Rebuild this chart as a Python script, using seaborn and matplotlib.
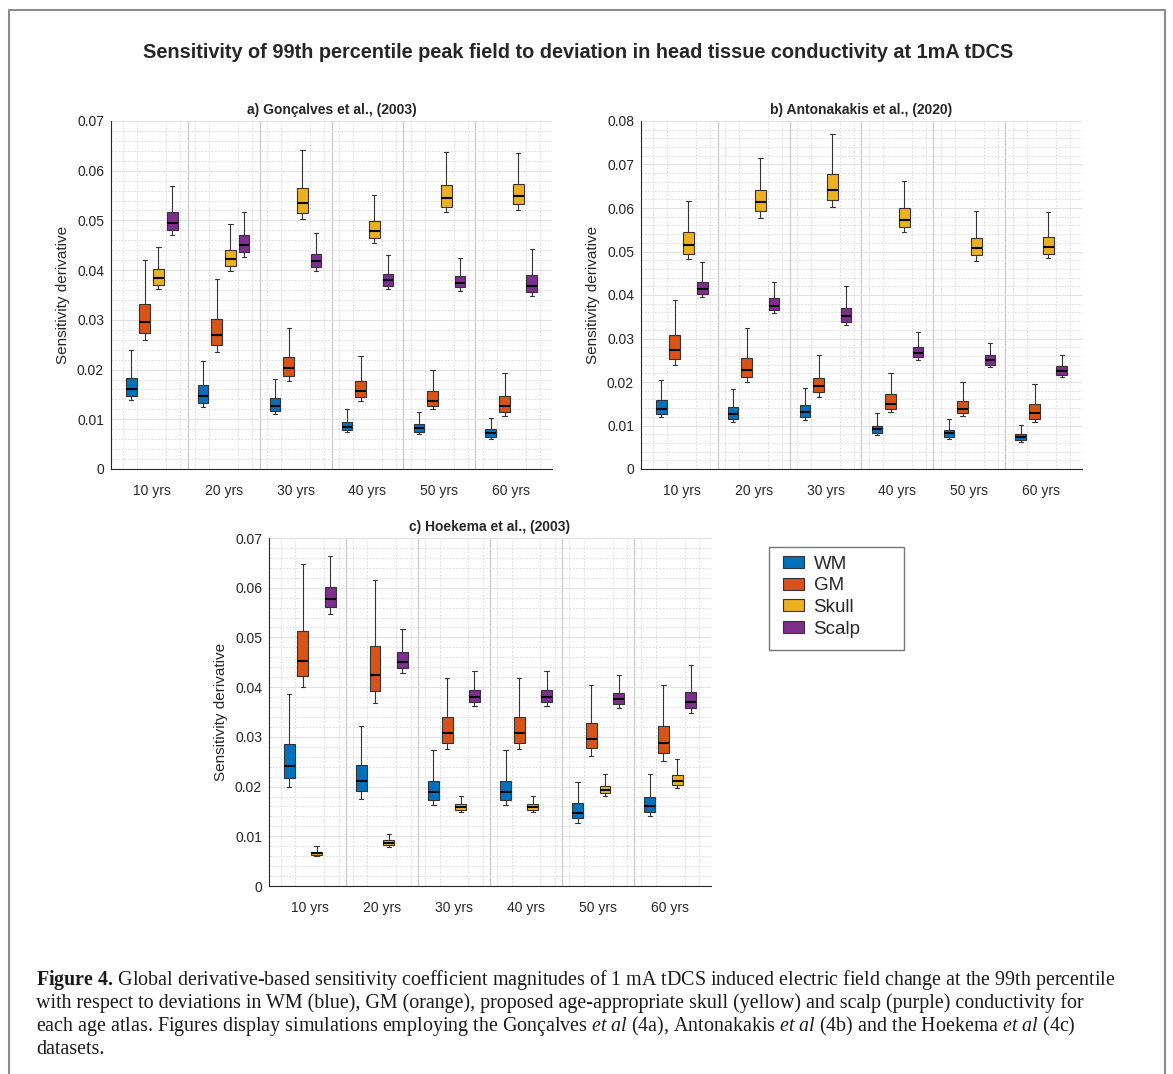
import matplotlib
matplotlib.use("Agg")
import matplotlib.pyplot as plt
import numpy as np
import pandas as pd
import seaborn as sns
from matplotlib.patches import Patch, Rectangle
from matplotlib.lines import Line2D

AGES = ['10 yrs', '20 yrs', '30 yrs', '40 yrs', '50 yrs', '60 yrs']
TISSUES = ['WM', 'GM', 'Skull', 'Scalp']
COLORS = ['#0072BD', '#D95319', '#EDB120', '#7E2F8E']

# box summaries, one tuple per age: (min, q1, median, q3, max)
# a) Goncalves et al. (2003)
gonc_wm = [(0.0138, 0.0146, 0.0161, 0.0184, 0.0240), (0.0125, 0.0133, 0.0146, 0.0168, 0.0218),
           (0.0110, 0.0117, 0.0126, 0.0142, 0.0182), (0.0074, 0.0078, 0.0084, 0.0095, 0.0121),
           (0.0070, 0.0075, 0.0082, 0.0090, 0.0115), (0.0060, 0.0065, 0.0072, 0.0080, 0.0102)]
gonc_gm = [(0.0259, 0.0273, 0.0296, 0.0332, 0.0421), (0.0235, 0.0249, 0.0269, 0.0302, 0.0383),
           (0.0178, 0.0188, 0.0203, 0.0226, 0.0283), (0.0137, 0.0144, 0.0157, 0.0178, 0.0228),
           (0.0121, 0.0127, 0.0137, 0.0156, 0.0200), (0.0107, 0.0115, 0.0126, 0.0146, 0.0194)]
gonc_skull = [(0.0362, 0.0371, 0.0385, 0.0402, 0.0447), (0.0399, 0.0409, 0.0423, 0.0441, 0.0492),
              (0.0502, 0.0515, 0.0535, 0.0565, 0.0641), (0.0454, 0.0464, 0.0478, 0.0499, 0.0552),
              (0.0516, 0.0528, 0.0546, 0.0572, 0.0638), (0.0521, 0.0533, 0.0549, 0.0573, 0.0636)]
gonc_scalp = [(0.0470, 0.0481, 0.0495, 0.0516, 0.0569), (0.0427, 0.0437, 0.0450, 0.0470, 0.0517),
              (0.0399, 0.0407, 0.0418, 0.0433, 0.0474), (0.0362, 0.0369, 0.0380, 0.0393, 0.0431),
              (0.0358, 0.0366, 0.0374, 0.0389, 0.0424), (0.0348, 0.0357, 0.0369, 0.0391, 0.0443)]

# b) Antonakakis et al. (2020)
anto_wm = [(0.0119, 0.0127, 0.0139, 0.0159, 0.0204), (0.0109, 0.0116, 0.0127, 0.0143, 0.0185),
           (0.0113, 0.0119, 0.0130, 0.0146, 0.0187), (0.0078, 0.0083, 0.0093, 0.0100, 0.0128),
           (0.0070, 0.0074, 0.0083, 0.0090, 0.0115), (0.0061, 0.0066, 0.0073, 0.0080, 0.0101)]
anto_gm = [(0.0239, 0.0253, 0.0273, 0.0308, 0.0388), (0.0199, 0.0211, 0.0227, 0.0256, 0.0324),
           (0.0165, 0.0176, 0.0190, 0.0210, 0.0263), (0.0132, 0.0139, 0.0150, 0.0172, 0.0221),
           (0.0121, 0.0128, 0.0138, 0.0156, 0.0201), (0.0109, 0.0116, 0.0129, 0.0149, 0.0196)]
anto_skull = [(0.0482, 0.0494, 0.0514, 0.0544, 0.0616), (0.0578, 0.0593, 0.0614, 0.0641, 0.0714),
              (0.0603, 0.0619, 0.0642, 0.0678, 0.0769), (0.0545, 0.0557, 0.0573, 0.0599, 0.0663),
              (0.0479, 0.0491, 0.0507, 0.0532, 0.0593), (0.0485, 0.0495, 0.0510, 0.0534, 0.0591)]
anto_scalp = [(0.0395, 0.0402, 0.0414, 0.0431, 0.0475), (0.0358, 0.0365, 0.0375, 0.0392, 0.0431),
              (0.0331, 0.0338, 0.0351, 0.0371, 0.0420), (0.0250, 0.0257, 0.0267, 0.0280, 0.0315),
              (0.0235, 0.0240, 0.0250, 0.0261, 0.0290), (0.0212, 0.0217, 0.0225, 0.0236, 0.0263)]

# c) Hoekema et al. (2003)
hoek_wm = [(0.0199, 0.0217, 0.0241, 0.0285, 0.0387), (0.0176, 0.0191, 0.0211, 0.0243, 0.0322),
           (0.0162, 0.0173, 0.0189, 0.0212, 0.0273), (0.0162, 0.0173, 0.0189, 0.0212, 0.0273),
           (0.0127, 0.0136, 0.0147, 0.0166, 0.0209), (0.0140, 0.0149, 0.0160, 0.0179, 0.0226)]
hoek_gm = [(0.0401, 0.0423, 0.0453, 0.0513, 0.0648), (0.0369, 0.0392, 0.0425, 0.0482, 0.0616),
           (0.0275, 0.0287, 0.0307, 0.0340, 0.0418), (0.0275, 0.0287, 0.0307, 0.0340, 0.0418),
           (0.0261, 0.0277, 0.0296, 0.0327, 0.0405), (0.0252, 0.0268, 0.0287, 0.0322, 0.0404)]
hoek_skull = [(0.0061, 0.0062, 0.0066, 0.0069, 0.0080), (0.0079, 0.0082, 0.0087, 0.0092, 0.0105),
              (0.0148, 0.0152, 0.0158, 0.0164, 0.0181), (0.0148, 0.0152, 0.0158, 0.0164, 0.0181),
              (0.0181, 0.0187, 0.0193, 0.0202, 0.0225), (0.0197, 0.0203, 0.0211, 0.0224, 0.0256)]
hoek_scalp = [(0.0548, 0.0561, 0.0577, 0.0602, 0.0663), (0.0429, 0.0438, 0.0450, 0.0470, 0.0517),
              (0.0363, 0.0370, 0.0380, 0.0394, 0.0432), (0.0363, 0.0370, 0.0380, 0.0394, 0.0432),
              (0.0358, 0.0366, 0.0377, 0.0389, 0.0424), (0.0348, 0.0358, 0.0370, 0.0391, 0.0444)]

sns.set_theme(style="white")
plt.rcParams['font.family'] = ['Liberation Sans', 'DejaVu Sans']
plt.rcParams['mathtext.fontset'] = 'custom'
plt.rcParams['mathtext.rm'] = 'Liberation Serif'
plt.rcParams['mathtext.it'] = 'Liberation Serif:italic'
plt.rcParams['mathtext.bf'] = 'Liberation Serif:bold'

W, H = 1173, 1074
DARK = '#262626'


def make_frame(wm, gm, skull, scalp):
    # five points per box -> quartiles land exactly on the listed values
    rows = []
    for tissue, boxes in zip(TISSUES, [wm, gm, skull, scalp]):
        for age, vals in zip(AGES, boxes):
            for v in vals:
                rows.append({'age': age, 'tissue': tissue, 'value': v})
    return pd.DataFrame(rows)


def draw_panel(ax, df, title, ymax):
    sns.boxplot(data=df, x='age', y='value', hue='tissue', order=AGES, hue_order=TISSUES,
                palette=COLORS, saturation=1, width=0.76, gap=0.21, whis=(0, 100),
                linewidth=0.8, linecolor='#333333', legend=False, ax=ax,
                medianprops=dict(color='black', linewidth=1.5), capwidths=0.06)

    ax.set_xlim(-0.565, 5.565)
    ax.set_ylim(0, ymax)
    yt = np.round(np.arange(0, ymax + 1e-9, 0.01), 2)
    ax.set_yticks(yt)
    ax.set_yticklabels(['0' if v == 0 else f'{v:.2f}' for v in yt])
    ax.set_yticks(np.arange(0, ymax, 0.002), minor=True)
    ax.set_xticks(range(len(AGES)))
    ax.set_xticklabels(AGES)
    ax.set_xticks([i + d for i in range(len(AGES)) for d in (-0.4, -0.2, 0.2, 0.4)], minor=True)

    ax.set_axisbelow(True)
    ax.grid(False)
    ax.grid(which='major', axis='y', color='#e2e2e2', linewidth=0.8, linestyle='-')
    ax.grid(which='minor', axis='both', color='#d6d6d6', linewidth=0.6, linestyle=(0, (2, 2)))
    for i in range(len(AGES) - 1):
        ax.axvline(i + 0.5, color='#cccccc', linewidth=1, zorder=0.5)

    for s in ['top', 'right']:
        ax.spines[s].set_visible(False)
    for s in ['left', 'bottom']:
        ax.spines[s].set_color(DARK)
        ax.spines[s].set_linewidth(0.8)

    ax.tick_params(which='major', direction='in', length=4, width=0.8, colors=DARK, labelsize=10)
    ax.tick_params(axis='x', which='major', pad=11)
    ax.tick_params(axis='y', which='major', pad=5)
    ax.tick_params(which='minor', length=0)

    ax.set_xlabel('')
    ax.set_ylabel('Sensitivity derivative', fontsize=11, color=DARK, labelpad=5)
    ax.set_title(title, fontsize=10, fontweight='bold', pad=5)


fig = plt.figure(figsize=(W / 100, H / 100), dpi=100)
ax_a = fig.add_axes([111 / W, 1 - 469 / H, 441 / W, 348 / H])
ax_b = fig.add_axes([641 / W, 1 - 469 / H, 441 / W, 348 / H])
ax_c = fig.add_axes([269 / W, 1 - 886 / H, 442 / W, 348 / H])

draw_panel(ax_a, make_frame(gonc_wm, gonc_gm, gonc_skull, gonc_scalp), 'a) Gonçalves et al., (2003)', 0.07)
draw_panel(ax_b, make_frame(anto_wm, anto_gm, anto_skull, anto_scalp), 'b) Antonakakis et al., (2020)', 0.08)
draw_panel(ax_c, make_frame(hoek_wm, hoek_gm, hoek_skull, hoek_scalp), 'c) Hoekema et al., (2003)', 0.07)

# shared legend, with its frame drawn separately (it is wider than its entries)
fig.add_artist(Rectangle((769 / W, 1 - 650 / H), 135 / W, 103 / H, transform=fig.transFigure,
                         facecolor='white', edgecolor='#777777', linewidth=1, zorder=2))
handles = [Patch(facecolor=c, edgecolor='#333333', linewidth=0.8) for c in COLORS]
leg = fig.legend(handles, TISSUES, loc='upper left', bbox_to_anchor=(777 / W, 1 - 550 / H),
                 frameon=False, fontsize=13.5,
                 handlelength=1.15, handleheight=0.6, handletextpad=0.5,
                 labelspacing=0.25, borderpad=0.3, borderaxespad=0)
leg.set_zorder(3)

fig.text((140 + 1017) / 2 / W, 1 - 53 / H,
         'Sensitivity of 99th percentile peak field to deviation in head tissue conductivity at 1mA tDCS',
         ha='center', va='center', fontsize=14.3, fontweight='bold')

# page frame
fig.add_artist(Line2D([8.5 / W, 8.5 / W, 1165 / W, 1165 / W], [0, 1 - 10 / H, 1 - 10 / H, 0],
                      color='#8c8c8c', linewidth=1.5, transform=fig.transFigure))

caption = [
    r'$\mathbf{Figure\ 4.}\,$Global derivative-based sensitivity coefficient magnitudes of 1 mA tDCS induced electric field change at the 99th percentile',
    r'with respect to deviations in WM (blue), GM (orange), proposed age-appropriate skull (yellow) and scalp (purple) conductivity for',
    r'each age atlas. Figures display simulations employing the Gonçalves $\mathit{et\ al}$ (4a), Antonakakis $\mathit{et\ al}$ (4b) and the Hoekema $\mathit{et\ al}$ (4c)',
    r'datasets.',
]
for line, yb in zip(caption, [985, 1008, 1031, 1054]):
    fig.text(36 / W, 1 - yb / H, line, family='Liberation Serif', fontsize=14.4,
             ha='left', va='baseline', color='#1a1a1a')

fig.savefig('out.png', dpi=100)
